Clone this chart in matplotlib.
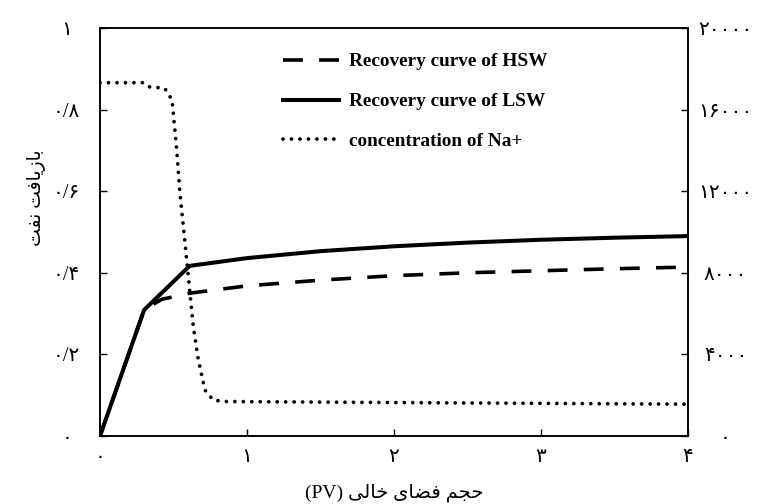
import numpy as np
import matplotlib
matplotlib.use('Agg')
import matplotlib.pyplot as plt
from matplotlib.ticker import FixedLocator, FuncFormatter

plt.rcParams['font.family'] = ['Liberation Serif', 'DejaVu Sans']

# recovery curves (left axis)
pv_lsw = [0.0, 0.30, 0.61, 1.0, 1.5, 2.0, 2.5, 3.0, 3.5, 4.0]
rf_lsw = [0.0, 0.309, 0.417, 0.436, 0.453, 0.465, 0.474, 0.481, 0.486, 0.490]

pv_hsw = [0.0, 0.30, 0.42, 0.61, 1.0, 1.5, 2.0, 2.5, 3.0, 3.5, 4.0]
rf_hsw = [0.0, 0.309, 0.335, 0.350, 0.368, 0.382, 0.393, 0.400, 0.405, 0.410, 0.414]

# Na+ concentration (right axis)
pv_na = [0.0, 0.29, 0.33, 0.44, 0.49, 0.52, 0.544, 0.567, 0.59, 0.612, 0.635,
         0.669, 0.714, 0.77, 0.85, 1.5, 2.5, 3.5, 4.0]
na = [17320, 17320, 17120, 17050, 16470, 14180, 11900, 10260, 8630, 7000, 5360,
      3730, 2250, 1760, 1690, 1660, 1620, 1580, 1560]

label_hsw = 'Recovery curve of HSW'
label_lsw = 'Recovery curve of LSW'
label_na = 'concentration of Na+'

# Persian text written in visual order with presentation forms
ylabel_fa = '\uFE96\uFED4\uFEE7 \uFE96\uFED3\uFE8E\uFBFE\uFEAF\uFE8E\uFE91'
xlabel_fa = '(PV) \uFBFD\uFEDF\uFE8E\uFEA7 \uFBFC\uFE8E\uFEC0\uFED3 \uFEE2\uFEA0\uFEA3'

fa_digits = str.maketrans('0123456789.', '۰۱۲۳۴۵۶۷۸۹/')


def to_fa(v, pos=None):
    if float(v).is_integer():
        s = str(int(round(v)))
    else:
        s = f'{v:g}'
    return s.translate(fa_digits)


fig = plt.figure(figsize=(7.61, 5.04), dpi=100)
ax = fig.add_axes([100/761, 1-436/504, 588/761, 408/504])
ax2 = ax.twinx()

l1, = ax.plot(pv_hsw, rf_hsw, color='black', lw=2.6, linestyle=(0, (5.5, 4.5)), label=label_hsw)
l2, = ax.plot(pv_lsw, rf_lsw, color='black', lw=2.9, label=label_lsw)
l3, = ax2.plot(pv_na, na, color='black', lw=2.7, linestyle=(0, (0.01, 2.25)),
               dash_capstyle='round', label=label_na)

ax.set_xlim(0, 4)
ax.set_ylim(0, 1)
ax2.set_ylim(0, 20000)

ax.xaxis.set_major_locator(FixedLocator([0, 1, 2, 3, 4]))
ax.yaxis.set_major_locator(FixedLocator([0, 0.2, 0.4, 0.6, 0.8, 1.0]))
ax2.yaxis.set_major_locator(FixedLocator([0, 4000, 8000, 12000, 16000, 20000]))
ax.xaxis.set_major_formatter(FuncFormatter(to_fa))
ax.yaxis.set_major_formatter(FuncFormatter(to_fa))
ax2.yaxis.set_major_formatter(FuncFormatter(to_fa))

ax.tick_params(axis='x', direction='in', length=5, width=1, pad=9, labelsize=14.5)
ax.tick_params(axis='y', direction='in', length=5, width=1, pad=24, labelsize=14.5)
ax2.tick_params(axis='y', direction='in', length=5, width=1, pad=27, labelsize=14.5)
for t in ax.get_yticklabels():
    t.set_horizontalalignment('center')
for t in ax2.get_yticklabels():
    t.set_horizontalalignment('center')

for a in (ax, ax2):
    for s in a.spines.values():
        s.set_linewidth(1.2)

ax.set_xlabel(xlabel_fa, fontsize=14)
ax.xaxis.set_label_coords(0.5, -0.118)
ax.set_ylabel(ylabel_fa, fontsize=13.5)
ax.yaxis.set_label_coords(-0.092, 0.585)

leg = ax.legend(handles=[l1, l2, l3], loc='upper left',
                bbox_to_anchor=(283/761, 1-53/504), bbox_transform=fig.transFigure,
                frameon=False, borderpad=0, borderaxespad=0,
                handlelength=2.9, handletextpad=0.55, labelspacing=1.16,
                prop={'family': 'Liberation Serif', 'weight': 'bold', 'size': 13.85})

fig.savefig('out.png', dpi=100)
